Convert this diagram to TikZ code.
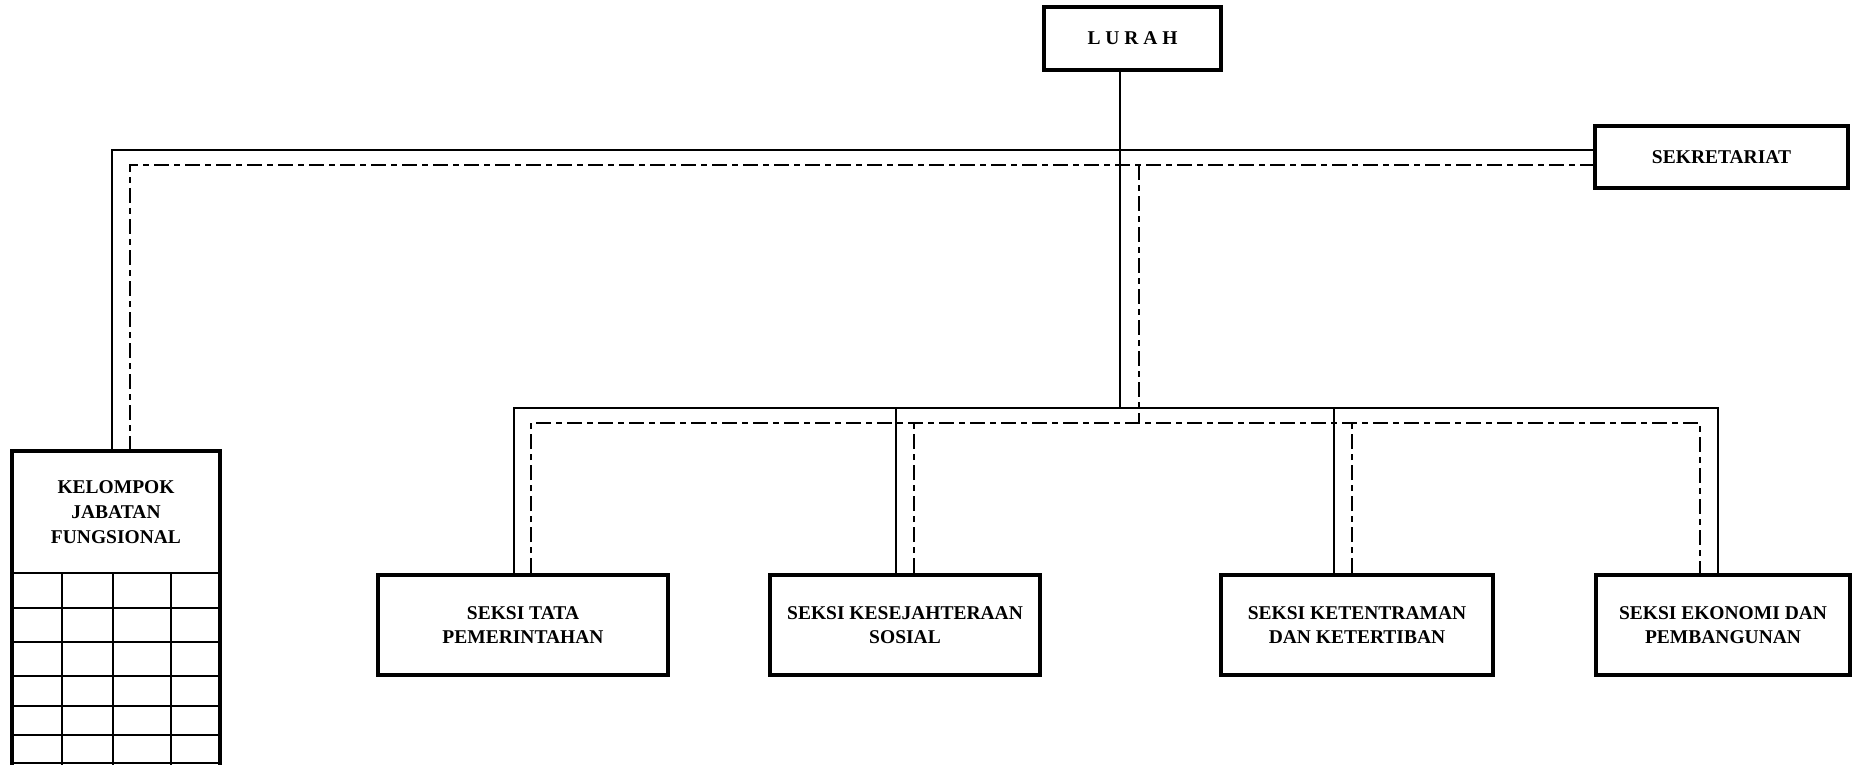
\documentclass[tikz,border=0pt]{standalone}
\usepackage{fontspec}
\setmainfont{Liberation Serif}
\begin{document}
\begin{tikzpicture}[x=1pt,y=-1pt,
  box/.style={draw, line width=4pt, align=center, inner sep=0pt,
    font=\fontsize{19.5}{23.5}\selectfont\bfseries},
  conn/.style={line width=2pt},
  dconn/.style={line width=2pt, dash pattern=on 15pt off 5pt on 6pt off 5pt},
  gridline/.style={line width=2.5pt},
  outline/.style={line width=4pt}]
\useasboundingbox (0,0) rectangle (1856,764);

% boxes
\node[box, minimum width=177pt, minimum height=63pt] (lurah) at (1132.5,38.5) {L U R A H};
\node[box, minimum width=253pt, minimum height=62pt] (sek) at (1721.5,157) {SEKRETARIAT};
\node[box, minimum width=290pt, minimum height=100pt] (tata) at (523,625) {SEKSI TATA\\PEMERINTAHAN};
\node[box, minimum width=270pt, minimum height=100pt] (kes) at (905,625) {SEKSI KESEJAHTERAAN\\SOSIAL};
\node[box, minimum width=272pt, minimum height=100pt] (ket) at (1357,625) {SEKSI KETENTRAMAN\\DAN KETERTIBAN};
\node[box, minimum width=254pt, minimum height=100pt] (eko) at (1723,625) {SEKSI EKONOMI DAN\\PEMBANGUNAN};
\node[align=center, inner sep=0pt, minimum width=208pt, minimum height=122pt,
  font=\fontsize{19.5}{25}\selectfont\bfseries] (kel) at (116,512) {KELOMPOK\\JABATAN\\FUNGSIONAL};

% kelompok outline and table
\coordinate (kbot) at (0,790);
\draw[outline] (kel.north west |- kbot) -- (kel.north west) -- (kel.north east) -- (kel.north east |- kbot);
\draw[gridline] (kel.south west) -- (kel.south east);
\foreach \yy in {608,642,676,706,735,763}
  \draw[gridline] (kel.west |- 0,\yy) -- (kel.east |- 0,\yy);
\foreach \xx in {62,113,171}
  \draw[gridline] (kel.south -| \xx,0) -- (\xx,790);

% junction coordinates
\coordinate (jl) at (1120,408);
\coordinate (jd) at (1139,423);
\coordinate (sekA) at (sek.west |- 0,150);
\coordinate (sekB) at (sek.west |- 0,165);

% solid lines
\draw[conn] (kel.north -| 112,0) |- (sekA);
\draw[conn] (lurah.south -| jl) -- (jl);
\draw[conn] (tata.north -| 514,0) |- (1718,408) -- (eko.north -| 1718,0);
\draw[conn] (kes.north -| 896,0) -- (896,408);
\draw[conn] (ket.north -| 1334,0) -- (1334,408);

% dash-dot lines
\draw[dconn] (kel.north -| 130,0) |- (sekB);
\draw[dconn] (1139,165) -- (jd);
\draw[dconn] (tata.north -| 531,0) |- (1700,423) -- (eko.north -| 1700,0);
\draw[dconn] (kes.north -| 914,0) -- (914,423);
\draw[dconn] (ket.north -| 1352,0) -- (1352,423);
\end{tikzpicture}
\end{document}
